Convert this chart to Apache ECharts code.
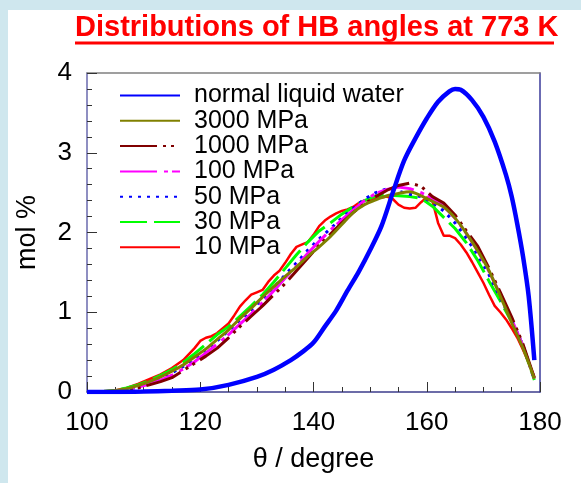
<!DOCTYPE html>
<html>
<head>
<meta charset="utf-8">
<script src="https://cdn.jsdelivr.net/npm/echarts@6/dist/echarts.min.js"></script>
<style>
html,body{margin:0;padding:0;background:#cfe7ee;}
#chart{width:581px;height:483px;}
</style>
</head>
<body>
<div id="chart"></div>
<script>
// ---- data ----
var titleText = 'Distributions of HB angles at 773 K';
var xName = 'θ / degree';
var yName = 'mol %';
var seriesNames = ['normal liquid water', '3000 MPa', '1000 MPa', '100 MPa', '50 MPa', '30 MPa', '10 MPa'];

var normalTheta = [100,105,110,115,120,125,130,133,136,138,140,142,144,146,148,150,152,154,156,158,160,162,164,165,166,168,170,172,174,175,176,177,178,179];
var normalValues = [0,0,0.005,0.015,0.03,0.09,0.19,0.28,0.40,0.50,0.62,0.82,1.02,1.27,1.51,1.78,2.08,2.50,2.90,3.18,3.43,3.64,3.77,3.80,3.79,3.66,3.45,3.14,2.72,2.45,2.10,1.70,1.20,0.40];

var theta = [100,103,105,107,109,111,113,115,117,119,121,123,125,127,129,131,133,135,137,139,141,143,145,147,149,151,153,155,157,159,161,163,165,167,169,171,173,175,177,179];
var mpa3000 = [0,0.01,0.02,0.04,0.08,0.13,0.19,0.26,0.34,0.44,0.54,0.66,0.78,0.92,1.05,1.19,1.32,1.45,1.57,1.70,1.82,1.95,2.10,2.25,2.35,2.41,2.46,2.49,2.51,2.46,2.39,2.32,2.18,1.99,1.77,1.52,1.20,0.87,0.55,0.17];
var mpa1000 = [0,0,0.01,0.02,0.05,0.09,0.13,0.18,0.27,0.36,0.45,0.55,0.68,0.82,0.95,1.08,1.22,1.36,1.52,1.68,1.84,1.98,2.12,2.25,2.36,2.45,2.53,2.59,2.62,2.58,2.45,2.37,2.22,2.02,1.83,1.55,1.25,0.94,0.60,0.18];
var mpa100 = [0,0,0.01,0.03,0.06,0.10,0.15,0.21,0.29,0.38,0.49,0.60,0.72,0.85,0.98,1.12,1.27,1.43,1.58,1.74,1.89,2.03,2.16,2.28,2.40,2.49,2.54,2.57,2.55,2.50,2.43,2.33,2.18,1.99,1.77,1.51,1.22,0.91,0.58,0.17];
var mpa50 = [0,0,0.01,0.03,0.07,0.12,0.17,0.24,0.32,0.42,0.53,0.64,0.77,0.90,1.03,1.17,1.31,1.47,1.62,1.78,1.92,2.05,2.18,2.30,2.42,2.50,2.55,2.52,2.48,2.45,2.38,2.27,2.12,1.93,1.72,1.47,1.18,0.90,0.58,0.16];
var mpa30 = [0,0.005,0.02,0.05,0.09,0.14,0.21,0.28,0.37,0.48,0.60,0.72,0.82,0.95,1.08,1.22,1.38,1.55,1.72,1.88,2.02,2.12,2.23,2.32,2.40,2.46,2.47,2.46,2.45,2.43,2.33,2.19,2.05,1.87,1.65,1.39,1.14,0.88,0.58,0.15];

var thetaRed = [100,103,105,107,109,111,113,115,117,119,120,121,122,123,124,125,126,127,128,129,130,131,132,133,134,135,136,137,138,139,140,141,142,143,144,145,146,147,148,149,150,151,152,153,154,155,156,157,158,159,160,161,162,163,164,165,166,167,168,169,170,171,172,173,174,175,176,177,178,179];
var mpa10 = [0,0.005,0.02,0.05,0.10,0.16,0.22,0.30,0.40,0.55,0.64,0.68,0.70,0.74,0.80,0.86,0.96,1.07,1.15,1.22,1.25,1.28,1.38,1.46,1.52,1.62,1.73,1.82,1.85,1.88,1.97,2.08,2.15,2.20,2.24,2.27,2.29,2.32,2.37,2.40,2.41,2.43,2.44,2.45,2.42,2.35,2.31,2.30,2.31,2.38,2.44,2.40,2.12,1.96,1.96,1.93,1.85,1.75,1.63,1.50,1.37,1.22,1.08,1.00,0.91,0.80,0.68,0.53,0.37,0.19];

var xTicks = {min: 100, max: 180, interval: 20};
var yTicks = {min: 0, max: 4, interval: 1};

function zip(xs, ys) { return xs.map(function (x, i) { return [x, ys[i]]; }); }

var FONT = 'Liberation Sans, Arial, sans-serif';
var chart = echarts.init(document.getElementById('chart'), null, {renderer: 'canvas'});

function mk(name, xs, ys, color, width, type, z, smooth) {
  return {
    name: name, type: 'line', data: zip(xs, ys), symbol: 'none', showSymbol: false,
    smooth: smooth || false, z: z, animation: false,
    lineStyle: {color: color, width: width, type: type},
    itemStyle: {color: color},
    xAxisIndex: 0, yAxisIndex: 0
  };
}

var series = [
  mk(seriesNames[6], thetaRed, mpa10, '#ff0000', 2.5, 'solid', 2),
  mk(seriesNames[5], theta, mpa30, '#00ff00', 3, [27, 7], 3),
  mk(seriesNames[4], theta, mpa50, '#0000ff', 3, [3, 6], 4),
  mk(seriesNames[3], theta, mpa100, '#ff00ff', 3, [37, 7, 4, 4], 5),
  mk(seriesNames[2], theta, mpa1000, '#800000', 3, [37, 6, 3, 5, 3, 6], 6),
  mk(seriesNames[1], theta, mpa3000, '#808000', 3, 'solid', 7, 0.3),
  mk(seriesNames[0], normalTheta, normalValues, '#0000ff', 4.5, 'solid', 8, 0.3)
];

var option = {
  animation: false,
  backgroundColor: 'transparent',
  title: {
    text: titleText, left: 75, top: 13, padding: 0,
    textStyle: {color: '#ff0000', fontFamily: FONT, fontWeight: 'bold', fontSize: 29}
  },
  graphic: [
    {type: 'rect', z: -10, shape: {x: 8, y: 10, width: 600, height: 500}, style: {fill: '#ffffff'}},
    {type: 'line', z: 10, shape: {x1: 75, y1: 43, x2: 554, y2: 43}, style: {stroke: '#ff0000', lineWidth: 3}}
  ],
  legend: {
    data: seriesNames, orient: 'vertical', left: 119, top: 83, padding: 0,
    itemWidth: 60, itemHeight: 14, itemGap: 0.3,
    itemStyle: {opacity: 0, borderWidth: 0},
    textStyle: {color: '#000', fontFamily: FONT, fontSize: 25, lineHeight: 25, padding: [0, 0, 0, 9]},
    selectedMode: false
  },
  grid: {left: 87, right: 41, top: 73, bottom: 91, show: false},
  xAxis: [{
    type: 'value', min: xTicks.min, max: xTicks.max, interval: xTicks.interval,
    name: xName, nameLocation: 'middle', nameGap: 54,
    nameTextStyle: {color: '#000', fontFamily: FONT, fontSize: 27},
    axisLine: {show: true, onZero: false, lineStyle: {color: '#3c3c8c', width: 1.5}},
    axisTick: {show: true, inside: true, length: 10, lineStyle: {color: '#333', width: 1}},
    minorTick: {show: true, splitNumber: 4, length: 5, lineStyle: {color: '#333', width: 1}},
    axisLabel: {color: '#000', fontFamily: FONT, fontSize: 26, margin: 18},
    splitLine: {show: false}
  }, {
    type: 'value', position: 'top', min: 0, max: 1,
    axisLine: {show: true, onZero: false, lineStyle: {color: '#808080', width: 1.5}},
    axisTick: {show: false}, axisLabel: {show: false}, splitLine: {show: false}
  }],
  yAxis: [{
    type: 'value', min: yTicks.min, max: yTicks.max, interval: yTicks.interval,
    name: yName, nameLocation: 'middle', nameGap: 46, nameRotate: 90,
    nameTextStyle: {color: '#000', fontFamily: FONT, fontSize: 27},
    axisLine: {show: true, onZero: false, lineStyle: {color: '#6a6aae', width: 1.5}},
    axisTick: {show: true, inside: true, length: 10, lineStyle: {color: '#333', width: 1}},
    minorTick: {show: true, splitNumber: 5, length: 5, lineStyle: {color: '#333', width: 1}},
    axisLabel: {color: '#000', fontFamily: FONT, fontSize: 26, margin: 15},
    splitLine: {show: false}
  }, {
    type: 'value', position: 'right', min: 0, max: 1,
    axisLine: {show: true, onZero: false, lineStyle: {color: '#3a3a9a', width: 1.5}},
    axisTick: {show: false}, axisLabel: {show: false}, splitLine: {show: false}
  }],
  series: series
};
chart.setOption(option);
</script>
</body>
</html>
